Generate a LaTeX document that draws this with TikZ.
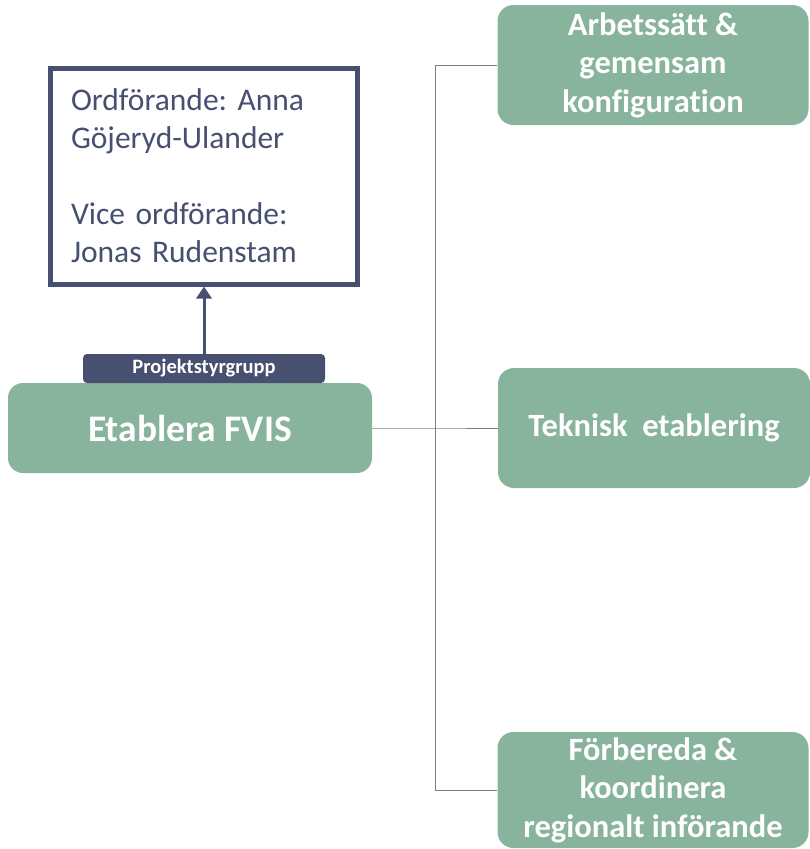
\documentclass[tikz,border=0pt]{standalone}
\usepackage{fontspec}
\setmainfont{Carlito}[Ligatures=NoCommon]
\newfontfamily\boardfont{Carlito}[Ligatures=NoCommon, WordSpace=0.8]
\usetikzlibrary{arrows.meta}
\definecolor{sage}{HTML}{88B39C}
\definecolor{navy}{HTML}{475070}
\definecolor{conn}{HTML}{7F7F7F}
\frenchspacing
\tikzset{
  greenbox/.style={fill=sage, draw=none, rounded corners=16pt, text=white, font=\bfseries\fontsize{32.5}{38.5}\selectfont, align=center, inner sep=0pt},
  boardbox/.style={draw=navy, line width=5pt, fill=white, text=navy, font=\boardfont\fontsize{31.5}{38}\selectfont, align=left, text width=266pt, minimum width=307pt, minimum height=216pt, inner sep=0pt},
  tagbox/.style={fill=navy, rounded corners=4pt, text=white, font=\bfseries\fontsize{20.5}{22}\selectfont, minimum width=242pt, minimum height=29pt, inner sep=0pt},
  connector/.style={draw=conn, line width=1pt},
}
\begin{document}
\begin{tikzpicture}[x=1pt,y=-1pt]
\useasboundingbox (0,0) rectangle (810,849);
\node[boardbox] (board) at (204,176) {\frenchspacing Ordförande: Anna\\Göjeryd-Ulander\\[38pt]Vice ordförande:\\Jonas Rudenstam};
\node[greenbox, minimum width=364pt, minimum height=90pt, font=\bfseries\fontsize{37.5}{42}\selectfont, rounded corners=15pt] (etab) at (190,428) {Etablera FVIS};
\node[tagbox] (tag) at (204,368.5) {Projektstyrgrupp};
\draw[navy, line width=3pt, -{Triangle[width=15pt,length=12pt]}] (tag.north) -- (board.south);
\node[greenbox, minimum width=311pt, minimum height=120pt] (arb) at (653,65) {Arbetssätt \&\\gemensam\\konfiguration};
\node[greenbox, minimum width=312pt, minimum height=120pt] (tek) at (654,428) {Teknisk\ \ etablering};
\node[greenbox, minimum width=311pt, minimum height=116pt] (forb) at (653,790) {Förbereda \&\\koordinera\\regionalt införande};
\coordinate (j) at (435,428);
\draw[connector] (etab.east) -- (j) -- (tek.west);
\draw[connector] (arb.west) -- (arb.west -| j) -- (forb.west -| j) -- (forb.west);
\end{tikzpicture}
\end{document}
